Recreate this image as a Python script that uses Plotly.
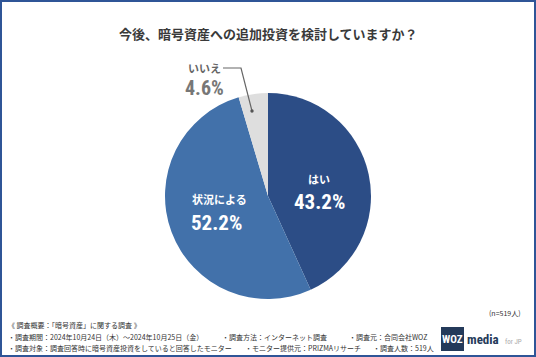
import plotly.graph_objects as go

labels = ["はい", "状況による", "いいえ"]
values = [43.2, 52.2, 4.6]
colors = ["#2c4d86", "#4271aa", "#dedede"]
title = "今後、暗号資産への追加投資を検討していますか？"
footer_lines = [
    ["《 調査概要：「暗号資産」に関する調査 》"],
    ["・調査期間：2024年10月24日（木）～2024年10月25日（金）", "・調査方法：インターネット調査", "・調査元：合同会社WOZ"],
    ["・調査対象：調査回答時に暗号資産投資をしていると回答したモニター", "・モニター提供元：PRIZMAリサーチ", "・調査人数：519人"],
]
n_note = "(n=519人)"

W, H = 536, 357
JP = "Noto Sans CJK JP"
NUM = "Liberation Sans Narrow, Roboto Condensed, Noto Sans CJK JP"

def px(x):
    return x / W

def py(y):
    return 1 - y / H

cx, cy, r = 268, 196, 103

fig = go.Figure(go.Pie(
    labels=labels, values=values, sort=False, direction="clockwise", rotation=0,
    marker=dict(colors=colors, line=dict(width=0)),
    textinfo="none", hoverinfo="label+percent", showlegend=False,
    domain=dict(x=[px(cx - r), px(cx + r)], y=[py(cy + r), py(cy - r)]),
))

ann = []

def add(x, y, text, size, color, family=JP, xanchor="center"):
    ann.append(dict(x=px(x), y=py(y), text=text, showarrow=False, xref="paper", yref="paper",
                    xanchor=xanchor, yanchor="middle",
                    font=dict(family=family, size=size, color=color)))

add(268, 33, "<b>%s</b>" % title, 13, "#3a3a3a")
# inside labels
add(319, 179, "<b>%s</b>" % labels[0], 11, "white")
add(319, 202, "<b>%.1f%%</b>" % values[0], 21, "white", NUM)
add(219, 199, "<b>%s</b>" % labels[1], 11, "white")
add(216, 223, "<b>%.1f%%</b>" % values[1], 21, "white", NUM)
add(204, 68, "<b>%s</b>" % labels[2], 11, "#666666")
add(204, 88, "<b>%.1f%%</b>" % values[2], 20, "#777777", NUM)
# footer
add(523, 313, n_note, 7, "#333333", xanchor="right")
row_y = [325, 337, 348]
col_x = [6, 220, 347]
col_x3 = [6, 243, 371]
for i, line in enumerate(footer_lines):
    xs = col_x3 if i == 2 else col_x
    for j, t in enumerate(line):
        add(xs[j], row_y[i], t, 7, "#333333", xanchor="left")
# logo
add(452.5, 339, "<b>WOZ</b>", 11, "white", NUM)
add(465, 339, "<b>media</b>", 13, "#243a5a", NUM, xanchor="left")
add(503, 342, "for JP", 7, "#aaaaaa", NUM, xanchor="left")

shapes = [
    dict(type="rect", xref="paper", yref="paper", x0=px(1), x1=px(535), y0=py(356), y1=py(1),
         line=dict(color="#2f5597", width=2), fillcolor="rgba(0,0,0,0)"),
    dict(type="rect", xref="paper", yref="paper", x0=px(441), x1=px(464), y0=py(351), y1=py(327),
         line=dict(width=0), fillcolor="#243a5a", layer="below"),
    dict(type="path", xref="paper", yref="paper",
         path="M %f %f L %f %f L %f %f" % (px(223), py(68), px(241), py(68), px(252), py(111)),
         line=dict(color="#666666", width=1.2)),
    dict(type="circle", xref="paper", yref="paper", x0=px(250.3), x1=px(253.7), y0=py(112.7), y1=py(109.3),
         fillcolor="#555555", line=dict(width=0)),
]

fig.update_layout(width=W, height=H, margin=dict(l=0, r=0, t=0, b=0),
                  paper_bgcolor="white", plot_bgcolor="white",
                  annotations=ann, shapes=shapes)
fig.write_html("out.html", config={"displayModeBar": False},
               post_script="document.body.style.margin='0';document.body.style.overflow='hidden';")
